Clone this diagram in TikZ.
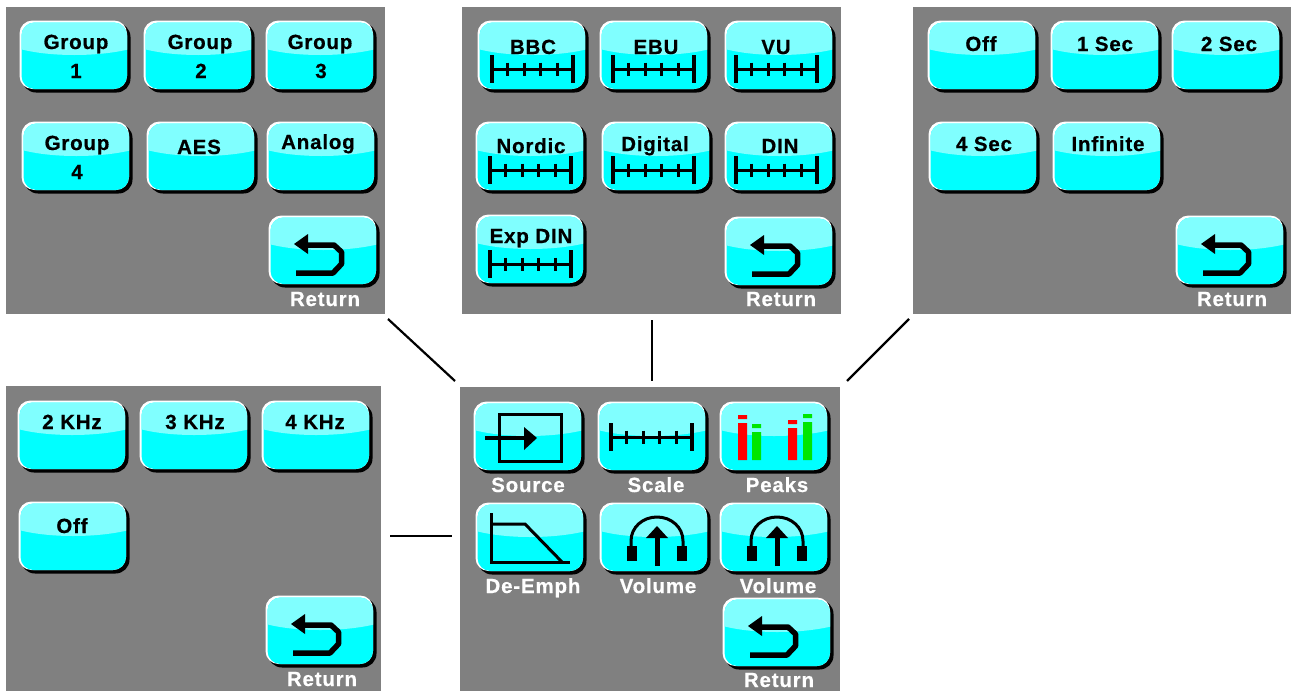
\documentclass[tikz,border=0pt]{standalone}
\usepackage{fontspec}
\setmainfont{Liberation Sans}[BoldFeatures={FakeBold=0.5,LetterSpace=4}]
\definecolor{btncyan}{RGB}{0,255,255}
\definecolor{btnlight}{RGB}{128,255,255}
\definecolor{panelgray}{RGB}{128,128,128}
\definecolor{peakred}{RGB}{255,0,0}
\definecolor{peakgreen}{RGB}{0,230,0}
\tikzset{
 panelbox/.style={fill=panelgray,draw=none,inner sep=0,outer sep=0,anchor=north west},
 btnbody/.style={fill=btncyan,draw=none,rounded corners=13pt,minimum width=105.5pt,minimum height=66.5pt,inner sep=0,outer sep=0},
 lab/.style={font=\bfseries\fontsize{20.5}{24}\selectfont,text=black,inner sep=0,outer sep=0,anchor=base},
 wlab/.style={lab,text=white},
 icon/.style={line width=3pt,draw=black},
 link/.style={line width=2.2pt,draw=black},
}
\newcommand{\btn}[3]{%
 \begin{scope}[shift={(#2,#3)}]
  \fill[black,rounded corners=14pt] (2,2) rectangle (110.5,71.5);
  \fill[white,rounded corners=13pt] (-0.5,-0.5) rectangle (107,68);
  \node[btnbody] (#1) at (54.25,34.75) {};
  \begin{scope}
   \clip[rounded corners=13pt] (1.5,1.5) rectangle (107,68);
   \fill[btnlight] (0,0) -- (0,28) .. controls (30,36) and (78,36) .. (110,28) -- (110,0) -- cycle;
  \end{scope}
 \end{scope}}
\newcommand{\retbtn}[3]{%
 \btn{#1}{#2}{#3}
 \begin{scope}[shift={(#2,#3)}]
  \draw[line width=5.5pt,line join=round] (38,29) -- (65,29) -- (72.5,36) -- (72.5,48) -- (64,57) -- (27,57);
  \fill (25,28) -- (39,18) -- (39,38) -- cycle;
 \end{scope}}
\newcommand{\scaleic}[2]{%
 \begin{scope}[shift={(#1,#2)}]
  \draw[icon,line width=3.2pt] (0,-14) -- (0,14);
  \draw[icon,line width=3.2pt] (81,-14) -- (81,14);
  \draw[icon,line width=3pt] (0,0) -- (81,0);
  \foreach \tx in {15,32,48,65} \draw[icon,line width=3pt] (\tx,-6.5) -- (\tx,6.5);
 \end{scope}}
\newcommand{\phonesic}[1]{%
 \begin{scope}[shift={(#1,0)}]
  \draw[icon] (-26,546) -- (-26,541) .. controls (-26,527) and (-14,517) .. (0,517) .. controls (14,517) and (26,527) .. (26,541) -- (26,546);
  \fill (-30,546) rectangle (-20,561);
  \fill (20,546) rectangle (30,561);
  \draw[line width=5pt] (0,566) -- (0,535);
  \fill (0,526) -- (-11,538) -- (11,538) -- cycle;
 \end{scope}}
\begin{document}
\begin{tikzpicture}[x=1pt,y=-1pt]
\useasboundingbox (0,0) rectangle (1291,691);
% panels
\node[panelbox,minimum width=379pt,minimum height=307pt] (p1) at (6,7) {};
\node[panelbox,minimum width=379pt,minimum height=307pt] (p2) at (462,7) {};
\node[panelbox,minimum width=378pt,minimum height=307pt] (p3) at (913,7) {};
\node[panelbox,minimum width=375pt,minimum height=305pt] (p4) at (6,386) {};
\node[panelbox,minimum width=380pt,minimum height=304pt] (p5) at (460,387) {};
% connectors
\coordinate (c1a) at (388,319); \coordinate (c1b) at (455,381);
\coordinate (c2a) at (652,320); \coordinate (c2b) at (652,381);
\coordinate (c3a) at (909,319); \coordinate (c3b) at (847,381);
\coordinate (c4a) at (390,536); \coordinate (c4b) at (452,536);
\draw[link] (c1a) -- (c1b);
\draw[link] (c2a) -- (c2b);
\draw[link] (c3a) -- (c3b);
\draw[link] (c4a) -- (c4b);
% panel 1
\btn{ga}{20}{21} \btn{gb}{144}{21} \btn{gc}{266}{21}
\btn{gd}{22}{122} \btn{aes}{147}{122} \btn{ana}{267}{122}
\retbtn{ret1}{269}{216}
\node[lab] (t1a) at (76,49) {Group}; \node[lab] (t1b) at (76,78) {1};
\node[lab] (t2a) at (200,49) {Group}; \node[lab] (t2b) at (201,78) {2};
\node[lab] (t3a) at (320,49) {Group}; \node[lab] (t3b) at (321,78) {3};
\node[lab] (t4a) at (77,150) {Group}; \node[lab] (t4b) at (77,179) {4};
\node[lab] (t5) at (199,154) {AES};
\node[lab] (t6) at (318,149) {Analog};
\node[wlab] (t7) at (325,306) {Return};
% panel 2
\btn{bbc}{478}{21} \btn{ebu}{600}{21} \btn{vu}{725}{21}
\btn{nor}{476}{122} \btn{dig}{602}{122} \btn{din}{725}{122}
\btn{exp}{476}{215}
\retbtn{ret2}{725}{217}
\scaleic{492}{69} \scaleic{613}{69} \scaleic{736}{69}
\scaleic{490}{170} \scaleic{613}{170} \scaleic{736}{170}
\scaleic{490}{264}
\node[lab] (s1) at (533,54) {BBC};
\node[lab] (s2) at (656,54) {EBU};
\node[lab] (s3) at (776,54) {VU};
\node[lab] (s4) at (531,153) {Nordic};
\node[lab] (s5) at (655,151) {Digital};
\node[lab] (s6) at (780,153) {DIN};
\node[lab] (s7) at (531,243) {Exp DIN};
\node[wlab] (s8) at (781,306) {Return};
% panel 3
\btn{off}{928}{21} \btn{one}{1051}{21} \btn{two}{1172}{21}
\btn{four}{929}{122} \btn{inf}{1053}{122}
\retbtn{ret3}{1176}{216}
\node[lab] (u1) at (981,51) {Off};
\node[lab] (u2) at (1105,51) {1 Sec};
\node[lab] (u3) at (1229,51) {2 Sec};
\node[lab] (u4) at (984,151) {4 Sec};
\node[lab] (u5) at (1108,151) {Infinite};
\node[wlab] (u6) at (1232,306) {Return};
% panel 4
\btn{ka}{18}{401} \btn{kb}{140}{401} \btn{kc}{262}{401}
\btn{koff}{19}{502}
\retbtn{ret4}{266}{596}
\node[lab] (v1) at (72,429) {2 KHz};
\node[lab] (v2) at (195,429) {3 KHz};
\node[lab] (v3) at (315,429) {4 KHz};
\node[lab] (v4) at (72,533) {Off};
\node[wlab] (v5) at (322,686) {Return};
% panel 5
\btn{src}{474}{402} \btn{scl}{598}{402} \btn{pk}{720}{402}
\btn{dem}{476}{503} \btn{vola}{600}{503} \btn{volb}{720}{503}
\retbtn{ret5}{723}{598}
% source icon
\draw[icon] (499,414) rectangle (561,461);
\draw[line width=3.5pt] (485,438) -- (527,438);
\fill (537,438) -- (524,427) -- (524,450) -- cycle;
% scale icon
\scaleic{611}{437}
% peaks icon
\fill[peakred] (738,423) rectangle (747,460) (738,415) rectangle (747,419);
\fill[peakgreen] (752,432) rectangle (761,460) (752,424) rectangle (761,428);
\fill[peakred] (788,428) rectangle (797,460) (788,420) rectangle (797,424);
\fill[peakgreen] (803,422) rectangle (812,460) (803,414) rectangle (812,418);
% de-emphasis icon
\draw[icon] (491,513) -- (491,562) -- (570,562);
\draw[icon] (491,524) -- (525,524) -- (562,562);
\phonesic{657}
\phonesic{777}
\node[wlab] (w1) at (528,492) {Source};
\node[wlab] (w2) at (656,492) {Scale};
\node[wlab] (w3) at (777,492) {Peaks};
\node[wlab] (w4) at (533,593) {De-Emph};
\node[wlab] (w5) at (658,593) {Volume};
\node[wlab] (w6) at (778,593) {Volume};
\node[wlab] (w7) at (779,687) {Return};
\end{tikzpicture}
\end{document}
